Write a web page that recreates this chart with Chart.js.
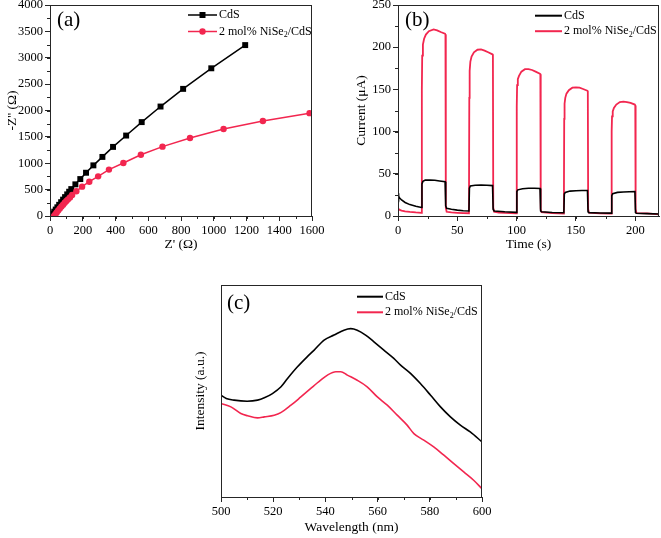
<!DOCTYPE html>
<html><head><meta charset="utf-8">
<script src="https://cdn.jsdelivr.net/npm/chart.js@4.4.1/dist/chart.umd.min.js"></script>
<style>
html,body{margin:0;padding:0;background:#fff;}
#wrap{position:relative;width:661px;height:538px;overflow:hidden;background:#fff;}
canvas{position:absolute;}
</style></head><body>
<div id="wrap">
<canvas id="ca" width="330" height="275" style="left:0px;top:-10px"></canvas>
<canvas id="cb" width="331" height="275" style="left:330px;top:-10px"></canvas>
<canvas id="cc" width="320" height="268" style="left:180px;top:270px"></canvas>
</div>
<script>
// ---------- DATA ----------
const seriesNames = ['CdS', '2 mol% NiSe₂/CdS'];
const panelTags = ['(a)', '(b)', '(c)'];

// (a) Nyquist plot: [Z' (Ω), -Z'' (Ω)]
const eisCdS = [[10,10],[18,45],[26,82],[35,122],[45,165],[56,212],[68,262],[80,310],[92,358],[105,410],[117,460],[130,510],[155,600],[185,700],[220,820],[265,960],[320,1120],[385,1310],[465,1525],[560,1780],[675,2075],[813,2410],[985,2800],[1192,3240]];
const eisNiSe2 = [[25,2],[33,35],[41,68],[50,104],[60,142],[70,180],[80,215],[90,250],[100,283],[110,316],[122,352],[135,400],[161,470],[196,556],[240,650],[294,752],[360,880],[448,1005],[555,1160],[687,1315],[855,1480],[1060,1650],[1300,1800],[1585,1950]];

// (b) transient photocurrent: [time (s), current (μA)]
const itCdS = [[0,27],[0.5,24],[1,22],[3,19],[6,16],[10,13.5],[15,11.5],[19.8,10],[20.2,38],[21,41],[23,42.5],[27,42.5],[31,42.3],[35,41.5],[39.7,40.7],[40.2,12],[41,9],[45,8],[50,7],[55,6.3],[59.8,6],[60.2,33],[61,35.5],[65,36.5],[70,36.7],[75,36.5],[79.7,36],[80.2,8],[81,6],[90,5],[99.8,4.3],[100.2,29],[101,31],[105,32.3],[110,32.8],[115,32.8],[119.7,32.5],[120.2,6],[121,5],[130,4.2],[139.8,3.8],[140.2,26],[141,28],[145,29.5],[150,30],[155,30.3],[159.7,30.3],[160.2,5],[161,4],[170,3.6],[179.8,3.4],[180.2,24],[181,26.5],[185,28],[190,28.5],[195,28.8],[199.7,29],[200.2,4],[201,3.2],[210,2.8],[220,2.3]];
const itNiSe2 = [[0,9.5],[1,7.5],[3,6.5],[6,5.5],[10,4.8],[15,4.2],[19.8,3.8],[20.1,150],[20.4,190],[21,203],[22,210],[23.5,215],[26,219],[30,221],[33,220],[36,218],[39.6,216],[40,215],[40.3,10],[41,5],[45,4.2],[50,3.8],[55,3.5],[59.8,3.3],[60.1,140],[60.4,172],[61,183],[62,189],[64,194],[67,197],[70,197.5],[73,196],[76,194],[79.6,191.5],[80,191],[80.3,10],[81,5],[85,4],[90,3.6],[99.8,3.2],[100.1,130],[100.4,155],[101,162],[102,166],[104,171],[107,174],[110,174],[113,173],[116,171],[119.6,168.5],[120,168],[120.3,8],[121,4.5],[130,3.3],[139.8,3],[140.1,115],[140.4,133],[141,140],[142,145],[144,149],[147,152],[150,152.5],[153,152],[156,150.5],[159.6,148.5],[160,148],[160.3,8],[161,4],[170,3.2],[179.8,2.9],[180.1,100],[180.4,118],[181,124],[182,128],[184,132],[187,135],[190,135.5],[193,135],[196,134],[199.6,132],[200,131],[200.3,8],[201,3.5],[210,3],[220,2]];

// (c) PL spectra: [wavelength (nm), intensity (a.u.)]
const plCdS = [[500,48.0],[502,46.5],[505,45.7],[510,45.2],[514,45.7],[516.6,46.8],[519.7,48.8],[523,52.0],[525.5,55.9],[529.3,61.4],[533,66.1],[535.7,69.3],[539.5,74.0],[543.3,76.4],[547.1,78.7],[549.7,79.4],[552.2,78.7],[555.4,76.4],[558.6,73.2],[562.4,69.3],[566.2,65.4],[568.8,62.2],[572.6,58.3],[576.4,53.5],[580.3,48.0],[584.1,42.5],[587.9,37.8],[591.7,33.9],[595.5,30.7],[600,26.0]];
const plNiSe2 = [[500,44.1],[503.8,42.5],[507.6,39.4],[510.2,38.3],[514,37.3],[516.6,37.8],[520.4,38.6],[522.9,39.8],[526.8,43.3],[530.6,47.2],[534.4,51.2],[538.2,55.1],[540.8,57.5],[544,59.1],[545.9,59.1],[548.4,57.5],[552.2,55.1],[556,52.0],[559.9,47.2],[563.7,43.3],[567.5,38.6],[571.3,33.9],[573.9,29.9],[577.7,26.8],[581.5,23.6],[585.4,19.7],[589.2,15.7],[593,11.8],[596.8,7.9],[600,3.9]];

// ---------- STYLE / HELPERS ----------
const BLACK = '#000000', RED = '#f2264f', AXIS = '#262626';
const SERIF = "'Liberation Serif','Times New Roman',serif";
const toXY = arr => arr.map(p => ({x: p[0], y: p[1]}));

const framePlugin = {
  id: 'frame',
  afterDraw(chart, args, o) {
    const {ctx, chartArea: a} = chart;
    const L = Math.round(a.left), T = Math.round(a.top), R = Math.round(a.right), B = Math.round(a.bottom);
    ctx.save();
    ctx.strokeStyle = AXIS; ctx.lineWidth = 1;
    ctx.strokeRect(L + 0.5, T + 0.5, R - L - 1, B - T);
    if (o.minorX) {
      const s = chart.scales.x;
      for (let v = s.min; v <= s.max + 1e-9; v += o.minorX) {
        const px = Math.round(s.getPixelForValue(v)) + 0.5;
        ctx.beginPath(); ctx.moveTo(px, B); ctx.lineTo(px, B + 3); ctx.stroke();
      }
    }
    if (o.minorY) {
      const s = chart.scales.y;
      for (let v = s.min; v <= s.max + 1e-9; v += o.minorY) {
        const py = Math.round(s.getPixelForValue(v)) + 0.5;
        ctx.beginPath(); ctx.moveTo(L, py); ctx.lineTo(L - 3, py); ctx.stroke();
      }
    }
    ctx.restore();
  }
};

const legendPlugin = {
  id: 'legendBox',
  afterDraw(chart, args, o) {
    const ctx = chart.ctx;
    ctx.save();
    ctx.textBaseline = 'middle'; ctx.textAlign = 'left';
    chart.data.datasets.forEach((ds, i) => {
      const y = o.y + i * o.gap;
      ctx.strokeStyle = ds.borderColor; ctx.lineWidth = o.lw;
      ctx.beginPath(); ctx.moveTo(o.x, y); ctx.lineTo(o.x + o.len, y); ctx.stroke();
      const mx = o.x + o.len / 2;
      ctx.fillStyle = ds.borderColor;
      if (o.markers && ds.pointStyle === 'rect') { ctx.fillRect(mx - 3, y - 3, 6, 6); }
      else if (o.markers && ds.pointStyle === 'circle') { ctx.beginPath(); ctx.arc(mx, y, 3.2, 0, Math.PI * 2); ctx.fill(); }
      ctx.fillStyle = '#000';
      let tx = o.x + o.len + 2;
      const parts = ds.label.split('₂');
      parts.forEach((p, k) => {
        ctx.font = '12px ' + SERIF;
        ctx.fillText(p, tx, y); tx += ctx.measureText(p).width;
        if (k < parts.length - 1) {
          ctx.font = '8px ' + SERIF;
          ctx.fillText('2', tx, y + 3.5); tx += ctx.measureText('2').width;
        }
      });
    });
    ctx.font = '21px ' + SERIF; ctx.fillStyle = '#000'; ctx.textBaseline = 'middle';
    ctx.fillText(o.tag, o.tagX, o.tagY);
    ctx.restore();
  }
};

function axisOpts(cfg) {
  return {
    type: 'linear', min: cfg.min, max: cfg.max,
    ticks: {display: cfg.showTicks !== false, stepSize: cfg.step, color: '#000', font: {family: SERIF, size: 12.5}, padding: 2, maxRotation: 0, autoSkip: false, includeBounds: false, callback: v => String(v)},
    grid: {display: cfg.showTicks !== false, drawOnChartArea: false, drawTicks: true, tickLength: 5, color: AXIS, lineWidth: 1},
    border: {display: true, color: AXIS, width: 1},
    title: {display: true, text: cfg.title, color: '#000', font: {family: SERIF, size: 13.5}, padding: cfg.tpad},
    afterFit: cfg.fit
  };
}

function baseOptions(pad, scales, frame, legend) {
  return {
    responsive: false, animation: false, devicePixelRatio: 1,
    layout: {padding: pad},
    plugins: {legend: {display: false}, tooltip: {enabled: false}, frame: frame, legendBox: legend},
    elements: {line: {tension: 0}},
    scales: scales
  };
}

// ---------- (a) ----------
new Chart(document.getElementById('ca'), {
  type: 'line',
  data: {datasets: [
    {label: seriesNames[0], data: toXY(eisCdS), borderColor: BLACK, backgroundColor: BLACK, borderWidth: 1.5, pointStyle: 'rect', pointRadius: 4.2, pointBorderWidth: 0, order: 1},
    {label: seriesNames[1], data: toXY(eisNiSe2), borderColor: RED, backgroundColor: RED, borderWidth: 1.5, pointStyle: 'circle', pointRadius: 3.2, pointBorderWidth: 0, order: 0}
  ]},
  options: baseOptions({top: 15, right: 18, left: 0, bottom: 0}, {
    x: axisOpts({min: 0, max: 1600, step: 200, title: "Z' (Ω)", tpad: {top: 0, bottom: 12}, fit: s => { s.height = 49; }}),
    y: axisOpts({min: 0, max: 4000, step: 500, title: "-Z'' (Ω)", tpad: {top: 4, bottom: 0}, fit: s => { s.width = 50; }})
  }, {minorX: 100, minorY: 250}, {x: 188, y: 25, gap: 16.5, len: 29, lw: 1.5, markers: true, tag: panelTags[0], tagX: 57, tagY: 30}),
  plugins: [framePlugin, legendPlugin]
});

// ---------- (b) ----------
new Chart(document.getElementById('cb'), {
  type: 'line',
  data: {datasets: [
    {label: seriesNames[0], data: toXY(itCdS), borderColor: BLACK, borderWidth: 1.6, pointRadius: 0, order: 0},
    {label: seriesNames[1], data: toXY(itNiSe2), borderColor: RED, borderWidth: 1.8, pointRadius: 0, order: 1}
  ]},
  options: baseOptions({top: 15, right: 2, left: 0, bottom: 0}, {
    x: axisOpts({min: 0, max: 220, step: 50, title: 'Time (s)', tpad: {top: 0, bottom: 12}, fit: s => { s.height = 49; }}),
    y: axisOpts({min: 0, max: 250, step: 50, title: 'Current (μA)', tpad: {top: 23, bottom: 0}, fit: s => { s.width = 68; }})
  }, {minorX: 25, minorY: 25}, {x: 205, y: 25.7, gap: 15.5, len: 27, lw: 2, markers: false, tag: panelTags[1], tagX: 75, tagY: 30}),
  plugins: [framePlugin, legendPlugin]
});

// ---------- (c) ----------
new Chart(document.getElementById('cc'), {
  type: 'line',
  data: {datasets: [
    {label: seriesNames[0], data: toXY(plCdS), borderColor: BLACK, borderWidth: 1.6, pointRadius: 0, cubicInterpolationMode: 'monotone'},
    {label: seriesNames[1], data: toXY(plNiSe2), borderColor: RED, borderWidth: 1.6, pointRadius: 0, cubicInterpolationMode: 'monotone'}
  ]},
  options: baseOptions({top: 15, right: 18, left: 0, bottom: 0}, {
    x: axisOpts({min: 500, max: 600, step: 20, title: 'Wavelength (nm)', tpad: {top: 0, bottom: 2}, fit: s => { s.height = 41; }}),
    y: axisOpts({min: 0, max: 100, step: 20, showTicks: false, title: 'Intensity (a.u.)', tpad: {top: 12, bottom: 0}, fit: s => { s.width = 41; }})
  }, {minorX: 10}, {x: 177, y: 26.7, gap: 15.6, len: 26, lw: 2, markers: false, tag: panelTags[2], tagX: 47, tagY: 33}),
  plugins: [framePlugin, legendPlugin]
});
</script>
</body></html>
